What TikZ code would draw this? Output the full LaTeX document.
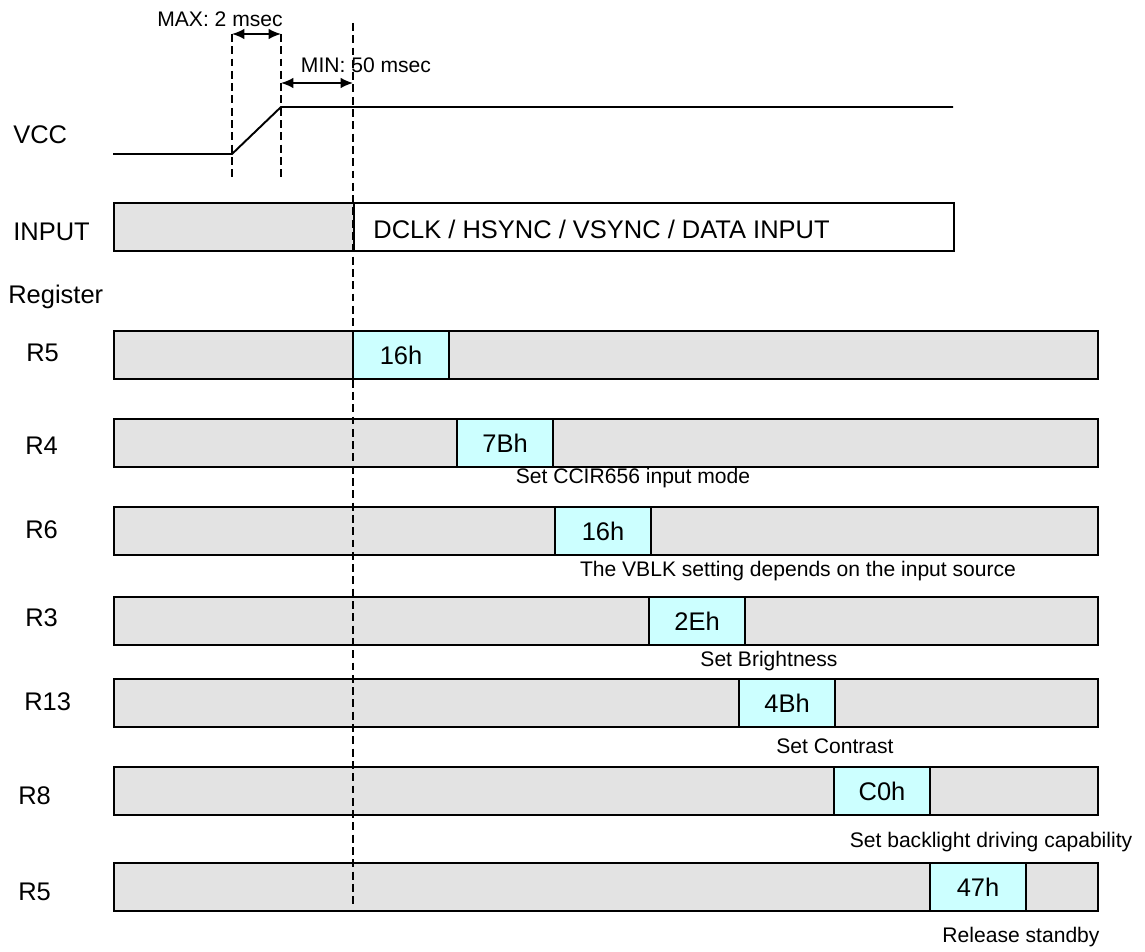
\documentclass[tikz,border=0pt]{standalone}
\usepackage{fontspec}
\setmainfont{Liberation Sans}
\usetikzlibrary{arrows.meta}

\definecolor{valcyan}{RGB}{204,255,255}
\definecolor{bargray}{RGB}{227,227,227}

\newcommand{\lbltxt}{\fontsize{14.5}{17}\selectfont}
\newcommand{\notetxt}{\fontsize{12}{14}\selectfont}

\tikzset{
    regbar/.style={draw, fill=bargray, line width=1pt, minimum width=19.68cm, minimum height=0.96cm, inner sep=0, anchor=west},
    valbox/.style={draw, fill=valcyan, line width=1pt, minimum width=1.92cm, minimum height=0.96cm, inner sep=0, font=\lbltxt},
    rowlbl/.style={anchor=west, inner sep=0, font=\lbltxt},
    note/.style={inner sep=0, font=\notetxt},
    guide/.style={line width=0.9pt, dash pattern=on 4.5pt off 2.5pt},
    span/.style={{Latex[length=7pt,width=6pt]}-{Latex[length=7pt,width=6pt]}, line width=1pt}
}

\begin{document}
\begin{tikzpicture}[x=0.02cm, y=-0.02cm]

        \useasboundingbox (0,0) rectangle (1145,952);

        %===========================
        % VCC
        %===========================

        \node (vcc) [rowlbl] at (13,135) {VCC};
        \coordinate (v0) at (113,154);
        \coordinate (v1) at (232,154);
        \coordinate (v2) at (281,107);
        \coordinate (v3) at (953,107);
        \draw[line width=1.1pt] (v0) -- (v1) -- (v2) -- (v3);

        % rise time
        \coordinate (d1t) at (232,34);
        \coordinate (d1b) at (232,177);
        \coordinate (d2t) at (281,34);
        \coordinate (d2b) at (281,177);
        \draw[guide] (d1t) -- (d1b);
        \draw[guide] (d2t) -- (d2b);
        \draw[span] (d1t) -- (d2t);
        \node (tmax) [note] at (220,19) {MAX: 2 msec};

        % wait time
        \coordinate (d3t) at (353,23);
        \coordinate (d3b) at (353,907);
        \coordinate (w0) at (281,83);
        \coordinate (w1) at (353,83);
        \draw[span] (w0) -- (w1);

        %===========================
        % Input
        %===========================

        \node (input) [rowlbl] at (13,232) {INPUT};
        \node (inoff) [regbar, minimum width=4.8cm] at (113,227) {};
        \node (inon) [regbar, fill=white, minimum width=12cm] at (353,227) {};
        \node (indata) [rowlbl] at (373,229) {DCLK / HSYNC / VSYNC / DATA INPUT};

        %===========================
        % Registers
        %===========================

        \node (reg) [anchor=base west, inner sep=0, font=\lbltxt] at (8,304) {Register};

        \node (l1) [rowlbl] at (26,353) {R5};
        \node (b1) [regbar] at (113,355) {};
        \node (x1) [valbox] at (401,355) {\raisebox{-1pt}{16h}};

        \node (l2) [rowlbl] at (25,446) {R4};
        \node (b2) [regbar] at (113,443) {};
        \node (x2) [valbox] at (505,443) {\raisebox{-1pt}{7Bh}};
        \node (n2) [note] at (633,478) {Set CCIR656 input mode};

        \node (l3) [rowlbl] at (25,530) {R6};
        \node (b3) [regbar] at (113,531) {};
        \node (x3) [valbox] at (603,531) {\raisebox{-1pt}{16h}};
        \node (n3) [note] at (798,571) {The VBLK setting depends on the input source};

        \node (l4) [rowlbl] at (25,618) {R3};
        \node (b4) [regbar] at (113,621) {};
        \node (x4) [valbox] at (697,621) {\raisebox{-1pt}{2Eh}};
        \node (n4) [note] at (769,661) {Set Brightness};

        \node (l5) [rowlbl] at (24,702) {R13};
        \node (b5) [regbar] at (113,703) {};
        \node (x5) [valbox] at (787,703) {\raisebox{-1pt}{4Bh}};
        \node (n5) [note] at (835,746) {Set Contrast};

        \node (l6) [rowlbl] at (18,796) {R8};
        \node (b6) [regbar] at (113,791) {};
        \node (x6) [valbox] at (882,791) {\raisebox{-1pt}{C0h}};
        \node (n6) [note] at (991,842) {Set backlight driving capability};

        \node (l7) [rowlbl] at (18,892) {R5};
        \node (b7) [regbar] at (113,887) {};
        \node (x7) [valbox] at (978,887) {\raisebox{-1pt}{47h}};
        \node (n7) [note] at (1021,937) {Release standby};

        % start line, drawn last
        \draw[guide] (d3t) -- (d3b);
        \node (tmin) [note] at (366,65) {MIN: 50 msec};

    \end{tikzpicture}
\end{document}
